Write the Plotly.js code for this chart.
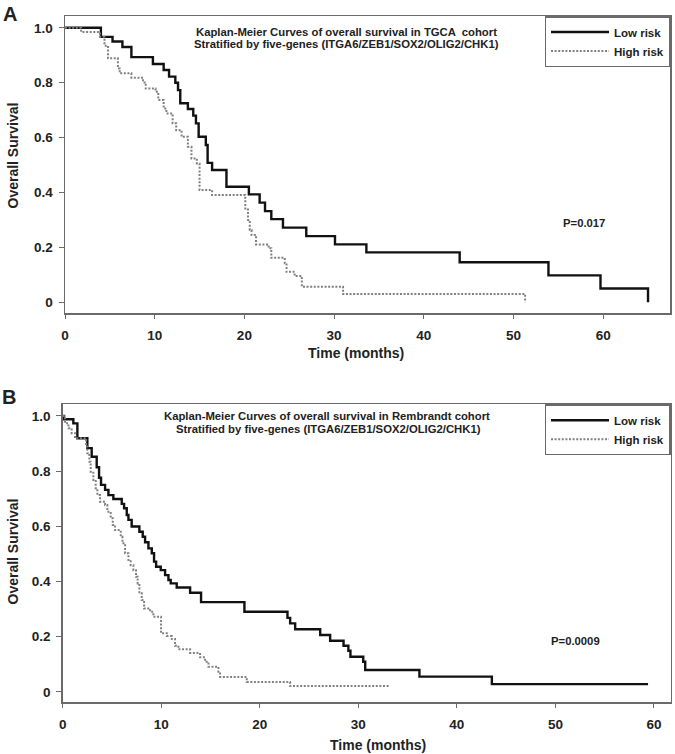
<!DOCTYPE html>
<html>
<head>
<meta charset="utf-8">
<script src="https://cdn.plot.ly/plotly-3.0.1.min.js"></script>
<style>html,body{margin:0;padding:0;background:#fff;}#chart{width:675px;height:754px;}</style>
</head>
<body>
<div id="chart"></div>
<script>
// ---- Panel A (TGCA cohort) ----
const tgcaLowTime  = [0, 4.0, 5.3, 6.4, 7.4, 9.8, 11.0, 11.6, 12.3, 12.6, 12.85, 13.7, 14.3, 14.6, 14.9, 15.7, 15.9, 16.4, 18.0, 20.5, 21.7, 22.3, 23.0, 24.3, 26.9, 30.1, 33.6, 44.0, 53.9, 59.7, 65.0];
const tgcaLowSurv  = [1, 0.967, 0.95, 0.93, 0.893, 0.868, 0.846, 0.822, 0.8, 0.773, 0.725, 0.704, 0.68, 0.652, 0.603, 0.573, 0.508, 0.482, 0.421, 0.393, 0.363, 0.332, 0.303, 0.272, 0.241, 0.211, 0.182, 0.146, 0.098, 0.05, 0];
const tgcaHighTime = [0, 1.8, 3.9, 4.4, 4.8, 5.9, 6.1, 7.4, 8.7, 9.0, 10.1, 10.4, 11.0, 11.3, 12.0, 12.4, 13.0, 13.7, 14.1, 14.7, 15.0, 16.4, 20.1, 20.4, 20.6, 20.8, 21.3, 22.7, 23.0, 24.5, 24.7, 25.6, 26.4, 31.0, 51.3];
const tgcaHighSurv = [1, 0.985, 0.967, 0.935, 0.889, 0.852, 0.834, 0.818, 0.801, 0.779, 0.767, 0.737, 0.706, 0.688, 0.652, 0.627, 0.603, 0.567, 0.524, 0.506, 0.409, 0.391, 0.342, 0.30, 0.263, 0.245, 0.211, 0.197, 0.162, 0.142, 0.111, 0.096, 0.057, 0.03, 0];

// ---- Panel B (Rembrandt cohort) ----
const remLowTime  = [0, 0.14, 1.08, 1.49, 2.5, 2.94, 3.45, 3.69, 3.89, 4.3, 4.64, 5.14, 5.99, 6.23, 6.5, 6.67, 7.0, 7.78, 8.12, 8.36, 8.7, 9.04, 9.27, 9.48, 9.95, 10.39, 10.73, 10.96, 11.57, 12.93, 14.04, 18.44, 22.81, 23.08, 23.59, 26.13, 27.14, 28.5, 28.99, 29.2, 30.5, 30.7, 36.2, 43.55, 59.4];
const remLowSurv  = [1, 0.988, 0.973, 0.919, 0.883, 0.852, 0.814, 0.776, 0.75, 0.732, 0.713, 0.699, 0.681, 0.665, 0.641, 0.623, 0.599, 0.58, 0.562, 0.542, 0.52, 0.502, 0.472, 0.453, 0.441, 0.423, 0.405, 0.393, 0.378, 0.359, 0.325, 0.29, 0.268, 0.248, 0.227, 0.206, 0.185, 0.167, 0.149, 0.127, 0.109, 0.079, 0.055, 0.028, 0.028];
const remHighTime = [0, 0.24, 0.58, 0.91, 1.25, 2.37, 2.5, 2.71, 2.84, 3.11, 3.35, 3.52, 3.79, 4.3, 4.53, 4.87, 5.08, 5.31, 5.89, 6.06, 6.33, 6.67, 6.9, 7.17, 7.44, 7.61, 7.78, 8.02, 8.26, 8.87, 9.2, 9.98, 10.56, 11.07, 11.4, 11.74, 12.93, 13.94, 14.45, 14.79, 15.8, 15.97, 18.68, 23.08, 33.2];
const remHighSurv = [1, 0.973, 0.955, 0.937, 0.919, 0.889, 0.865, 0.834, 0.798, 0.768, 0.738, 0.713, 0.689, 0.677, 0.653, 0.629, 0.605, 0.586, 0.562, 0.538, 0.502, 0.478, 0.459, 0.441, 0.417, 0.393, 0.357, 0.333, 0.302, 0.29, 0.272, 0.212, 0.202, 0.191, 0.167, 0.154, 0.141, 0.125, 0.109, 0.091, 0.073, 0.054, 0.036, 0.021, 0.021];

const xTickVals = [0, 10, 20, 30, 40, 50, 60];
const yTickVals = [0, 0.2, 0.4, 0.6, 0.8, 1.0];
const yTickText = ['0', '0.2', '0.4', '0.6', '0.8', '1.0'];
const seriesNames = ['Low risk', 'High risk'];

const W = 675, H = 754;
const FONT = 'Arial, "Liberation Sans", sans-serif';
const TXT = '#222';
const FRAME = '#6a6a6a';

function px(x){ return x / W; }
function py(y){ return 1 - y / H; }

const solid = {color: '#111', width: 2.4, shape: 'hv'};
const dotted = {color: '#808080', width: 2, shape: 'hv', dash: '2px,1.6px'};

const traces = [
  {x: tgcaLowTime, y: tgcaLowSurv, name: seriesNames[0], mode: 'lines', line: solid, xaxis: 'x', yaxis: 'y', legend: 'legend'},
  {x: tgcaHighTime, y: tgcaHighSurv, name: seriesNames[1], mode: 'lines', line: dotted, xaxis: 'x', yaxis: 'y', legend: 'legend'},
  {x: remLowTime, y: remLowSurv, name: seriesNames[0], mode: 'lines', line: solid, xaxis: 'x2', yaxis: 'y2', legend: 'legend2'},
  {x: remHighTime, y: remHighSurv, name: seriesNames[1], mode: 'lines', line: dotted, xaxis: 'x2', yaxis: 'y2', legend: 'legend2'}
];

function xAxis(domain, range, anchor){
  return {domain: domain, range: range, anchor: anchor, tickmode: 'array', tickvals: xTickVals,
    showgrid: false, zeroline: false, showline: true, mirror: true, linecolor: FRAME, linewidth: 1.5,
    ticks: 'outside', ticklen: 4, tickcolor: FRAME, tickwidth: 1,
    tickfont: {family: FONT, size: 13.5, color: TXT, weight: 'bold'}, ticklabelstandoff: 5, fixedrange: true};
}
function yAxis(domain, range, anchor){
  return {domain: domain, range: range, anchor: anchor, tickmode: 'array', tickvals: yTickVals, ticktext: yTickText,
    showgrid: false, zeroline: false, showline: true, mirror: true, linecolor: FRAME, linewidth: 1.5,
    ticks: 'outside', ticklen: 5, tickcolor: FRAME, tickwidth: 1,
    tickfont: {family: FONT, size: 13.5, color: TXT, weight: 'bold'}, ticklabelstandoff: 3, fixedrange: true};
}

function ann(text, x, y, size, extra){
  return Object.assign({text: text, x: px(x), y: py(y), xref: 'paper', yref: 'paper', showarrow: false,
    xanchor: 'center', yanchor: 'middle', font: {family: FONT, size: size, color: TXT, weight: 'bold'}}, extra || {});
}

const legendStyle = (top) => ({
  x: px(670.5), y: py(top), xanchor: 'right', yanchor: 'top', bgcolor: 'rgba(255,255,255,0)',
  bordercolor: FRAME, borderwidth: 1.5, font: {family: FONT, size: 11.5, color: TXT, weight: 'bold'},
  tracegroupgap: 0, itemwidth: 58,
  itemclick: false, itemdoubleclick: false
});

const layout = {
  width: W, height: H, margin: {l: 0, r: 0, t: 0, b: 0}, paper_bgcolor: '#fff', plot_bgcolor: '#fff',
  showlegend: true,
  xaxis: xAxis([px(65), px(670)], [0, 67.45], 'y'),
  yaxis: yAxis([py(313), py(16)], [-0.039, 1.043], 'x'),
  xaxis2: xAxis([px(62.7), px(670.7)], [0, 61.7], 'y2'),
  yaxis2: yAxis([py(702.3), py(404.3)], [-0.038, 1.042], 'x2'),
  legend: legendStyle(16),
  legend2: legendStyle(404.3),
  annotations: [
    ann('A', 10, 14, 20),
    ann('B', 9, 397, 20),
    ann('Kaplan-Meier Curves of overall survival in TGCA  cohort', 346, 31.7, 11.3),
    ann('Stratified by five-genes (ITGA6/ZEB1/SOX2/OLIG2/CHK1)', 346, 44.3, 11.3),
    ann('Kaplan-Meier Curves of overall survival in Rembrandt cohort', 327, 416, 11.3),
    ann('Stratified by five-genes (ITGA6/ZEB1/SOX2/OLIG2/CHK1)', 328, 429.3, 11.3),
    ann('P=0.017', 584, 223.3, 11.3),
    ann('P=0.0009', 575.5, 641, 11.3),
    ann('Time (months)', 356, 353, 14),
    ann('Time (months)', 377.5, 745, 14),
    ann('Overall Survival', 12.5, 156, 14, {textangle: -90}),
    ann('Overall Survival', 12.5, 552, 14, {textangle: -90})
  ]
};

Plotly.newPlot('chart', traces, layout, {staticPlot: true, displayModeBar: false});
</script>
</body>
</html>
